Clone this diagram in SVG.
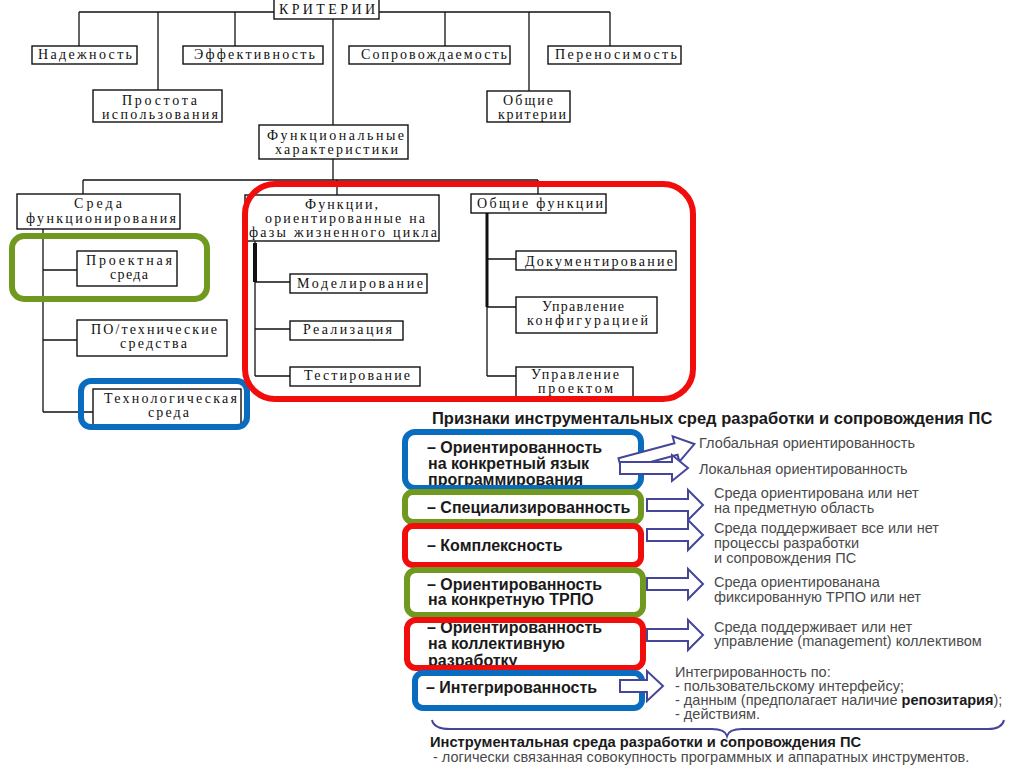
<svg xmlns="http://www.w3.org/2000/svg" width="1024" height="767" viewBox="0 0 1024 767">
<style>
.bx{fill:#fff;stroke:#111;stroke-width:1.4}
.st{font-family:"Liberation Serif","Times New Roman",serif;font-size:14px;fill:#111}
.ln{stroke:#111;stroke-width:1.3;fill:none}
.thk{stroke:#111;stroke-width:4;fill:none}
.hl{fill:none;stroke-width:6}
.red{stroke:#f20d0d}
.grn{stroke:#6f9a1f}
.blu{stroke:#0a6cbf}
.lt{font-family:"Liberation Sans",Arial,sans-serif;font-size:16px;font-weight:bold;fill:#1a1a1a}
.rt{font-family:"Liberation Sans",Arial,sans-serif;font-size:14.5px;fill:#4a4a4a}
.ar{fill:#fff;stroke:#45459a;stroke-width:2;stroke-linejoin:miter}
.ttl{font-family:"Liberation Sans",Arial,sans-serif;font-size:16.5px;font-weight:bold;fill:#1a1a1a}
.def{font-family:"Liberation Sans",Arial,sans-serif;font-size:14.7px;font-weight:bold;fill:#1a1a1a}
</style>
<rect width="1024" height="767" fill="#fff"/>

<g id="connectors">
<path class="ln" d="M79,12 H610 M79,12 V46 M158,12 V90 M235,12 V46 M445,12 V46 M529,12 V91 M610,12 V46"/>
<path class="ln" d="M333,19 V125 M333,159 V180 M83,180 H538 M83,180 V194 M337,180 V195 M538,180 V194"/>
<path class="ln" d="M43,229 V412 M43,270 H77 M43,340 H77 M43,412 H93"/>
<path class="ln" d="M255,241 V376 M255,282 H290 M255,329 H290 M255,376 H290"/>
<path class="thk" d="M255,243 V282"/>
<path class="ln" d="M487,213 V376 M487,259 H516 M487,307 H516 M487,376 H516"/>
<path d="M487,213 V307" stroke="#111" stroke-width="3" fill="none"/>
</g>

<g id="n-kriterii"><rect class="bx" x="274" y="-1" width="105" height="20"/><text class="st" x="279" y="14" textLength="96" lengthAdjust="spacing">КРИТЕРИИ</text></g>
<g id="n-nadezhnost"><rect class="bx" x="32" y="46" width="105" height="18"/><text class="st" x="38" y="59" textLength="94" lengthAdjust="spacing">Надежность</text></g>
<g id="n-effekt"><rect class="bx" x="183" y="46" width="140" height="18"/><text class="st" x="194" y="59" textLength="121" lengthAdjust="spacing">Эффективность</text></g>
<g id="n-soprov"><rect class="bx" x="349" y="46" width="161" height="18"/><text class="st" x="361" y="59" textLength="146" lengthAdjust="spacing">Сопровождаемость</text></g>
<g id="n-perenos"><rect class="bx" x="548" y="46" width="133" height="18"/><text class="st" x="555" y="59" textLength="122" lengthAdjust="spacing">Переносимость</text></g>
<g id="n-prostota"><rect class="bx" x="93" y="90" width="129" height="32"/><text class="st" x="122" y="105" textLength="75" lengthAdjust="spacing">Простота</text><text class="st" x="102" y="119" textLength="116" lengthAdjust="spacing">использования</text></g>
<g id="n-obshie-krit"><rect class="bx" x="487" y="91" width="83" height="31"/><text class="st" x="503" y="105" textLength="50" lengthAdjust="spacing">Общие</text><text class="st" x="498" y="119" textLength="68" lengthAdjust="spacing">критерии</text></g>
<g id="n-funkc-har"><rect class="bx" x="259" y="125" width="149" height="34"/><text class="st" x="267" y="140" textLength="137" lengthAdjust="spacing">Функциональные</text><text class="st" x="275" y="154" textLength="123" lengthAdjust="spacing">характеристики</text></g>
<g id="n-sreda-funk"><rect class="bx" x="17" y="194" width="163" height="35"/><text class="st" x="74" y="208" textLength="48" lengthAdjust="spacing">Среда</text><text class="st" x="26" y="223" textLength="150" lengthAdjust="spacing">функционирования</text></g>
<g id="n-funkcii"><rect class="bx" x="245" y="195" width="194" height="46"/><text class="st" x="305" y="209" textLength="73" lengthAdjust="spacing">Функции,</text><text class="st" x="265" y="223" textLength="160" lengthAdjust="spacing">ориентированные на</text><text class="st" x="249" y="237" textLength="188" lengthAdjust="spacing">фазы жизненного цикла</text></g>
<g id="n-obshie-funk"><rect class="bx" x="471" y="194" width="135" height="19"/><text class="st" x="477" y="208" textLength="126" lengthAdjust="spacing">Общие функции</text></g>
<g id="n-proekt"><rect class="bx" x="77" y="251" width="100" height="35"/><text class="st" x="86" y="265" textLength="86" lengthAdjust="spacing">Проектная</text><text class="st" x="110" y="279" textLength="38" lengthAdjust="spacing">среда</text></g>
<g id="n-po"><rect class="bx" x="77" y="320" width="150" height="36"/><text class="st" x="91" y="334" textLength="126" lengthAdjust="spacing">ПО/технические</text><text class="st" x="120" y="348" textLength="67" lengthAdjust="spacing">средства</text></g>
<g id="n-tehnolog"><rect class="bx" x="93" y="389" width="148" height="36"/><text class="st" x="104" y="403" textLength="133" lengthAdjust="spacing">Технологическая</text><text class="st" x="148" y="417" textLength="41" lengthAdjust="spacing">среда</text></g>
<g id="n-model"><rect class="bx" x="290" y="274" width="137" height="19"/><text class="st" x="297" y="288" textLength="126" lengthAdjust="spacing">Моделирование</text></g>
<g id="n-realiz"><rect class="bx" x="290" y="321" width="113" height="19"/><text class="st" x="303" y="334" textLength="89" lengthAdjust="spacing">Реализация</text></g>
<g id="n-test"><rect class="bx" x="290" y="367" width="130" height="19"/><text class="st" x="304" y="380" textLength="106" lengthAdjust="spacing">Тестирование</text></g>
<g id="n-dokum"><rect class="bx" x="516" y="251" width="160" height="19"/><text class="st" x="525" y="266" textLength="148" lengthAdjust="spacing">Документирование</text></g>
<g id="n-upr-konf"><rect class="bx" x="516" y="297" width="141" height="36"/><text class="st" x="542" y="311" textLength="82" lengthAdjust="spacing">Управление</text><text class="st" x="527" y="325" textLength="121" lengthAdjust="spacing">конфигурацией</text></g>
<g id="n-upr-proekt"><rect class="bx" x="516" y="367" width="117" height="33"/><text class="st" x="531" y="379" textLength="88" lengthAdjust="spacing">Управление</text><text class="st" x="538" y="393" textLength="75" lengthAdjust="spacing">проектом</text></g>

<g id="highlights-top">
<rect class="hl grn" x="12" y="236" width="195" height="63" rx="12"/>
<rect class="hl blu" x="81" y="381" width="166" height="46" rx="10"/>
<rect class="hl red" x="245" y="184" width="448" height="215" rx="30"/>
</g>

<g id="title"><text class="ttl" x="432" y="424">Признаки инструментальных сред разработки и сопровождения ПС</text></g>

<g id="n-orient-lang"><text class="lt" x="427" y="453">– Ориентированность</text><text class="lt" x="428" y="469">на конкретный язык</text><text class="lt" x="428" y="485">программирования</text><rect class="hl blu" x="405" y="432" width="236" height="56" rx="10"/></g>
<g id="n-special"><text class="lt" x="427" y="513">– Специализированность</text><rect class="hl grn" x="405" y="492" width="236" height="30" rx="8"/></g>
<g id="n-kompl"><text class="lt" x="427" y="551">– Комплексность</text><rect class="hl red" x="405" y="526" width="236" height="39" rx="8"/></g>
<g id="n-orient-trpo"><text class="lt" x="427" y="590">– Ориентированность</text><text class="lt" x="428" y="605">на конкретную ТРПО</text><rect class="hl grn" x="407" y="570" width="236" height="45" rx="9"/></g>
<g id="n-orient-koll"><text class="lt" x="427" y="633">– Ориентированность</text><text class="lt" x="428" y="649">на коллективную</text><text class="lt" x="428" y="666">разработку</text><rect class="hl red" x="407" y="620" width="236" height="48" rx="9"/></g>
<g id="n-integr"><text class="lt" x="426" y="693">– Интегрированность</text><rect class="hl blu" x="415" y="673" width="227" height="35" rx="8"/></g>

<g id="arrows">
<path class="ar" transform="translate(620,464) rotate(-15)" d="M0,-6 H58 V-13 L77,0 L58,13 V6 H0 Z"/>
<path class="ar" d="M620,462 H672 V455 L688,468 L672,481 V474 H620 Z"/>
<path class="ar" d="M647,499 H688 V490 L703,505 L688,520 V511 H647 Z"/>
<path class="ar" d="M647,529 H688 V520 L703,535 L688,550 V541 H647 Z"/>
<path class="ar" d="M647,578 H688 V569 L703,584 L688,599 V590 H647 Z"/>
<path class="ar" d="M647,629 H688 V620 L703,635 L688,650 V641 H647 Z"/>
<path class="ar" d="M620,680 H647 V671 L663,686 L647,701 V692 H620 Z"/>
<path d="M432,720 Q434,729 450,729 H712 Q725,729 727,736 Q729,729 742,729 H988 Q1002,729 1004,720" fill="none" stroke="#45459a" stroke-width="2"/>
</g>

<g id="descriptions">
<text class="rt" x="699" y="448">Глобальная ориентированность</text>
<text class="rt" x="699" y="474">Локальная ориентированность</text>
<text class="rt" x="714" y="498">Среда ориентирована или нет</text>
<text class="rt" x="714" y="513">на предметную область</text>
<text class="rt" x="714" y="533">Среда поддерживает все или нет</text>
<text class="rt" x="714" y="548">процессы разработки</text>
<text class="rt" x="714" y="563">и сопровождения ПС</text>
<text class="rt" x="714" y="587">Среда ориентированана</text>
<text class="rt" x="714" y="602">фиксированную ТРПО или нет</text>
<text class="rt" x="714" y="632">Среда поддерживает или нет</text>
<text class="rt" x="714" y="646">управление (management) коллективом</text>
<text class="rt" x="675" y="677">Интегрированность по:</text>
<text class="rt" x="675" y="691">- пользовательскому интерфейсу;</text>
<text class="rt" x="675" y="705">- данным (предполагает наличие <tspan font-weight="bold" fill="#1a1a1a">репозитария</tspan>);</text>
<text class="rt" x="675" y="719">- действиям.</text>
</g>

<g id="definition">
<text class="def" x="430" y="747">Инструментальная среда разработки и сопровождения ПС</text>
<text class="rt" x="433" y="762">- логически связанная совокупность программных и  аппаратных инструментов.</text>
</g>
</svg>
